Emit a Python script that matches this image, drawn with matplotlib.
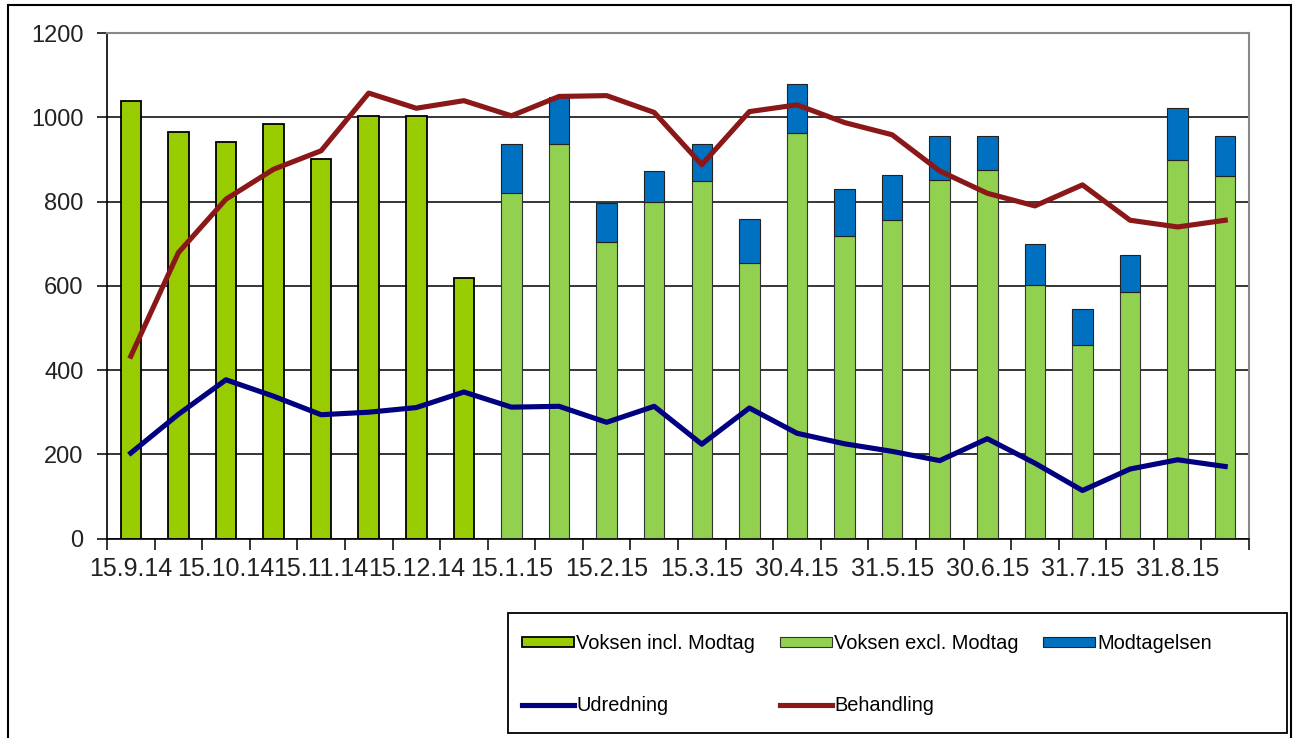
import matplotlib
matplotlib.use("Agg")
import matplotlib.pyplot as plt
import numpy as np
from matplotlib.patches import Rectangle
from matplotlib.lines import Line2D

plt.rcParams['font.family'] = ['Liberation Sans', 'DejaVu Sans']

TICK_LABELS = ["15.9.14", "15.10.14", "15.11.14", "15.12.14", "15.1.15", "15.2.15",
               "15.3.15", "30.4.15", "31.5.15", "30.6.15", "31.7.15", "31.8.15"]

# first 8 periods: one combined bar
voksen_incl = [1040, 966, 941, 984, 901, 1003, 1003, 618]
# last 16 periods: split into two stacked parts
voksen_excl = [820, 936, 704, 800, 848, 655, 964, 719, 757, 851, 875, 601, 460, 586, 900, 860]
modtagelsen = [116, 112, 94, 73, 88, 105, 116, 111, 106, 104, 80, 98, 86, 88, 122, 95]

udredning = [203, 295, 377, 338, 294, 300, 311, 348, 312, 314, 276, 314,
             224, 310, 250, 225, 207, 185, 237, 179, 114, 165, 187, 171]
behandling = [433, 679, 806, 877, 921, 1058, 1022, 1040, 1004, 1050, 1052, 1012,
              888, 1014, 1030, 988, 959, 873, 820, 790, 840, 756, 740, 756]

C_INCL = "#99CC00"
C_EXCL = "#92D050"
C_MODT = "#0070C0"
C_UDR = "#000080"
C_BEH = "#8A1818"

n = len(udredning)
x = np.arange(n)
x_incl = x[:len(voksen_incl)]
x_excl = x[len(voksen_incl):]
width = 0.43

fig = plt.figure(figsize=(12.93, 7.38), dpi=100)
W, H = 1293, 738
ax = fig.add_axes([107 / W, 1 - 538.5 / H, (1249 - 107) / W, (538.5 - 33.3) / H])

ax.bar(x_incl, voksen_incl, width, color=C_INCL, edgecolor="black", linewidth=1.3, zorder=2)
ax.bar(x_excl, voksen_excl, width, color=C_EXCL, edgecolor="#333333", linewidth=0.8, zorder=2)
ax.bar(x_excl, modtagelsen, width, bottom=voksen_excl, color=C_MODT, edgecolor="#222222",
       linewidth=0.8, zorder=2)
ax.plot(x, udredning, color=C_UDR, lw=3.7, zorder=3, solid_joinstyle="round")
ax.plot(x, behandling, color=C_BEH, lw=3.7, zorder=3, solid_joinstyle="round")

ax.set_xlim(-0.5, n - 0.5)
ax.set_ylim(0, 1200)
ax.set_yticks(range(0, 1201, 200))
ax.yaxis.grid(True, color="black", lw=1.1)
ax.set_axisbelow(True)

ax.set_xticks(np.arange(-0.5, n, 1.0))
ax.set_xticklabels([])
ax.set_xticks(x[::2], minor=True)
ax.set_xticklabels(TICK_LABELS, minor=True, fontsize=18, color="#222222")
ax.tick_params(axis="x", which="major", length=8, width=1.1, color="black", direction="out")
ax.tick_params(axis="x", which="minor", length=0, pad=13)
ax.tick_params(axis="y", length=7, width=1.1, direction="out", labelsize=17, pad=10,
               labelcolor="#222222")

for s in ["left", "bottom"]:
    ax.spines[s].set_color("black")
    ax.spines[s].set_linewidth(1.2)
for s in ["top", "right"]:
    ax.spines[s].set_color("#888888")
    ax.spines[s].set_linewidth(1.5)

# outer chart border and legend box
fig.add_artist(Rectangle((8 / W, -0.02), (1291 - 8) / W, 1.02 - 5 / H, transform=fig.transFigure,
                         fill=False, edgecolor="black", lw=1.5))
fig.add_artist(Rectangle((508 / W, 1 - 733 / H), (1287 - 508) / W, (733 - 613) / H,
                         transform=fig.transFigure, fill=False, edgecolor="black", lw=1.3))

h_incl = Rectangle((0, 0), 1, 1, facecolor=C_INCL, edgecolor="black", lw=1.3)
h_excl = Rectangle((0, 0), 1, 1, facecolor=C_EXCL, edgecolor="#333333", lw=0.8)
h_modt = Rectangle((0, 0), 1, 1, facecolor=C_MODT, edgecolor="#222222", lw=0.8)
h_udr = Line2D([], [], color=C_UDR, lw=3.7)
h_beh = Line2D([], [], color=C_BEH, lw=3.7)
fig.legend([h_incl, h_udr, h_excl, h_beh, h_modt],
           ["Voksen incl. Modtag", "Udredning", "Voksen excl. Modtag", "Behandling", "Modtagelsen"],
           ncol=3, loc="upper left", bbox_to_anchor=(522 / W, 1 - 634 / H),
           frameon=False, fontsize=14.4, borderaxespad=0, borderpad=0,
           handlelength=2.6, handleheight=0.4, handletextpad=0.1,
           columnspacing=1.25, labelspacing=2.15)

fig.savefig("out.png", dpi=100)
